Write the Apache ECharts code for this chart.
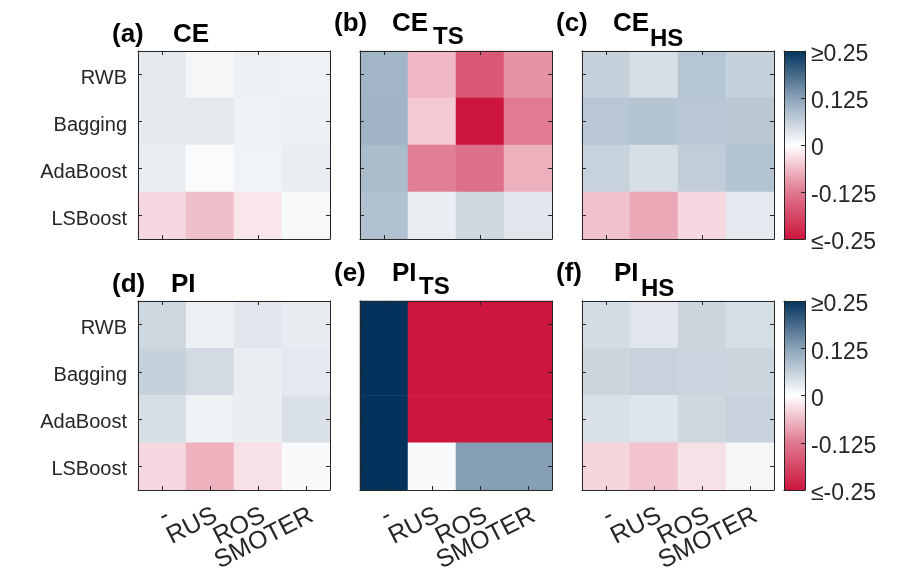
<!DOCTYPE html>
<html>
<head>
<meta charset="utf-8">
<script src="https://cdn.jsdelivr.net/npm/echarts@6/dist/echarts.min.js"></script>
<style>html,body{margin:0;padding:0;background:#fff}#c{width:900px;height:579px}</style>
</head>
<body>
<div id="c"></div>
<script>
// ---- data ----
const methods = ['RWB', 'Bagging', 'AdaBoost', 'LSBoost'];
const samplers = ['-', 'RUS', 'ROS', 'SMOTER'];
const cbTicks = [-0.25, -0.125, 0, 0.125, 0.25];
// rows: methods, cols: samplers
const ceVals = [
  [0.029, 0.012, 0.020, 0.018],
  [0.029, 0.029, 0.018, 0.019],
  [0.023, 0.005, 0.015, 0.024],
  [-0.035, -0.059, -0.023, 0.009]
];
const ceTsVals = [
  [0.099, -0.066, -0.167, -0.101],
  [0.101, -0.049, -0.250, -0.123],
  [0.090, -0.119, -0.135, -0.074],
  [0.083, 0.023, 0.053, 0.033]
];
const ceHsVals = [
  [0.062, 0.044, 0.078, 0.062],
  [0.075, 0.079, 0.075, 0.074],
  [0.061, 0.043, 0.066, 0.080],
  [-0.057, -0.081, -0.035, 0.030]
];
const piVals = [
  [0.054, 0.020, 0.033, 0.025],
  [0.062, 0.048, 0.023, 0.030],
  [0.044, 0.018, 0.022, 0.041],
  [-0.035, -0.072, -0.028, 0.007]
];
const piTsVals = [
  [0.25, -0.25, -0.25, -0.25],
  [0.25, -0.25, -0.25, -0.25],
  [0.25, -0.25, -0.25, -0.25],
  [0.25, 0.007, 0.128, 0.128]
];
const piHsVals = [
  [0.046, 0.033, 0.057, 0.044],
  [0.055, 0.060, 0.056, 0.055],
  [0.041, 0.034, 0.053, 0.060],
  [-0.039, -0.055, -0.028, 0.012]
];
const panelVals = [ceVals, ceTsVals, ceHsVals, piVals, piTsVals, piHsVals];
const panelLetters = ['(a)', '(b)', '(c)', '(d)', '(e)', '(f)'];
const panelMain = ['CE', 'CE', 'CE', 'PI', 'PI', 'PI'];
const panelSub = ['', 'TS', 'HS', '', 'TS', 'HS'];

// ---- style / layout ----
const FONT = 'Liberation Sans, Arial, Helvetica, sans-serif';
const AX = '#262626';
const cmap = ['#CC163E', '#E0798F', '#FFFFFF', '#8AA2B7', '#03335C'];
const colLeft = [138, 360, 582];
const rowTop = [51, 301];
const rowH = [188, 189];
const PW = 192;
const cbLeft = 784, cbW = 21;

const grids = [], xAxes = [], yAxes = [], series = [], titles = [];

function frameAxis(kind, pos, gridIndex, data, opts) {
  const a = {
    type: 'category', data: data, gridIndex: gridIndex, position: pos, z: 10,
    axisLine: {show: true, onZero: false, lineStyle: {color: AX, width: 1}},
    axisTick: {show: true, inside: true, alignWithLabel: true, length: 4, lineStyle: {color: AX}},
    axisLabel: {show: false},
    splitLine: {show: false}
  };
  if (kind === 'y') a.inverse = true;
  return Object.assign(a, opts || {});
}

for (let p = 0; p < 6; p++) {
  const r = Math.floor(p / 3), c = p % 3;
  grids.push({left: colLeft[c], top: rowTop[r], width: PW, height: rowH[r], containLabel: false});
  const showX = r === 1, showY = c === 0;
  xAxes.push(frameAxis('x', 'bottom', p, samplers, showX ? {
    axisLabel: {show: true, rotate: 27, margin: 13, fontSize: 25, color: AX, fontFamily: FONT, interval: 0,
      verticalAlign: 'top'}
  } : {}));
  xAxes.push(frameAxis('x', 'top', p, samplers));
  yAxes.push(frameAxis('y', 'left', p, methods, showY ? {
    axisLabel: {show: true, margin: 11, fontSize: 20, color: AX, fontFamily: FONT, interval: 0,
      verticalAlign: 'top', lineHeight: 7}
  } : {}));
  yAxes.push(frameAxis('y', 'right', p, methods));
  const vals = panelVals[p];
  const d = [];
  for (let i = 0; i < methods.length; i++)
    for (let j = 0; j < samplers.length; j++) d.push([j, i, vals[i][j]]);
  series.push({
    type: 'heatmap', xAxisIndex: 2 * p, yAxisIndex: 2 * p, data: d,
    itemStyle: {borderWidth: 0}, emphasis: {disabled: true}, silent: true, z: 2
  });
}

// colorbars
for (let r = 0; r < 2; r++) {
  const gi = 6 + r;
  grids.push({left: cbLeft, top: rowTop[r], width: cbW, height: rowH[r]});
  const xb = {type: 'category', data: ['c'], gridIndex: gi, z: 10,
    axisLine: {show: true, onZero: false, lineStyle: {color: AX}}, axisTick: {show: false}, axisLabel: {show: false}};
  xAxes.push(Object.assign({}, xb, {position: 'bottom'}));
  xAxes.push(Object.assign({}, xb, {position: 'top'}));
  const yb = {type: 'value', gridIndex: gi, min: cbTicks[0], max: cbTicks[cbTicks.length - 1], interval: 0.125, z: 10,
    axisLine: {show: true, onZero: false, lineStyle: {color: AX}}, splitLine: {show: false}};
  yAxes.push(Object.assign({}, yb, {position: 'left', axisTick: {show: false}, axisLabel: {show: false}}));
  yAxes.push(Object.assign({}, yb, {position: 'right',
    axisTick: {show: true, inside: true, length: 4, lineStyle: {color: AX}},
    axisLabel: {show: true, margin: 6, fontSize: 23, color: AX, fontFamily: FONT,
      verticalAlign: 'top', lineHeight: 8,
      formatter: function (v) {
        if (Math.abs(v - 0.25) < 1e-9) return '\u22650.25';
        if (Math.abs(v + 0.25) < 1e-9) return '\u2264-0.25';
        if (Math.abs(v) < 1e-9) return '0';
        return String(v);
      }}
  }));
  series.push({
    type: 'custom', xAxisIndex: 12 + 2 * r, yAxisIndex: 12 + 2 * r, silent: true, z: 2,
    data: [[0, 0]],
    renderItem: function (params, api) {
      const cs = params.coordSys;
      const stops = cmap.map((col, k) => ({offset: 1 - k / (cmap.length - 1), color: col}));
      return {type: 'rect', shape: {x: cs.x, y: cs.y, width: cs.width, height: cs.height},
        style: {fill: new echarts.graphic.LinearGradient(0, 0, 0, 1, stops.reverse())}};
    }
  });
}

// titles
const titleTopMain = [22, 11, 11];
const subTop = [0, 25, 27];
const letterLeft = [112, 334, 556];
const mainLeft = [[173, 392, 613], [171, 392, 614]];
const subLeft = [[0, 433, 650], [0, 419, 641]];
for (let p = 0; p < 6; p++) {
  const r = Math.floor(p / 3), c = p % 3;
  const ts = {fontSize: 26, fontWeight: 'bold', color: '#000', fontFamily: FONT};
  titles.push({text: panelLetters[p], left: letterLeft[c], top: titleTopMain[c] + 250 * r, padding: 0, textStyle: ts});
  titles.push({text: panelMain[p], left: mainLeft[r][c], top: titleTopMain[c] + 250 * r, padding: 0, textStyle: ts});
  if (panelSub[p]) {
    titles.push({text: panelSub[p], left: subLeft[r][c], top: subTop[c] + 250 * r, padding: 0,
      textStyle: {fontSize: 24, fontWeight: 'bold', color: '#000', fontFamily: FONT}});
  }
}

const chart = echarts.init(document.getElementById('c'), null, {renderer: 'canvas'});
chart.setOption({
  animation: false,
  backgroundColor: '#ffffff',
  title: titles,
  grid: grids,
  xAxis: xAxes,
  yAxis: yAxes,
  visualMap: {
    type: 'continuous', show: false, min: -0.25, max: 0.25, seriesIndex: [0, 1, 2, 3, 4, 5],
    inRange: {color: cmap}
  },
  series: series
});
</script>
</body>
</html>
